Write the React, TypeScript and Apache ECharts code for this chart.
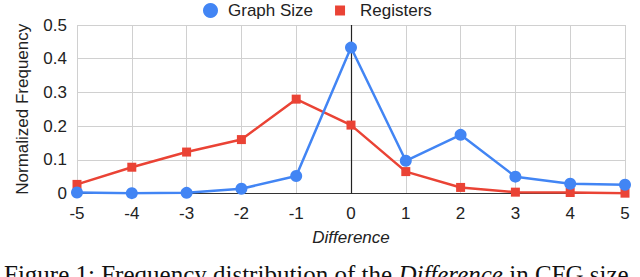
import React, { useEffect, useRef } from "react";
import * as echarts from "echarts";

const differences = [-5, -4, -3, -2, -1, 0, 1, 2, 3, 4, 5];
const graphSize = [0.003, 0.001, 0.002, 0.014, 0.052, 0.433, 0.097, 0.174, 0.05, 0.029, 0.026];
const registers = [0.027, 0.078, 0.123, 0.16, 0.28, 0.203, 0.065, 0.018, 0.004, 0.003, 0.001];
const seriesNames = ["Graph Size", "Registers"];
const colors = ["#4285F4", "#EA4335"];

export default function App() {
  const ref = useRef<HTMLDivElement>(null);
  useEffect(() => {
    document.body.style.margin = "0";
    const chart = echarts.init(ref.current!, null, { renderer: "svg" });
    const font = "Liberation Sans, Arial, sans-serif";
    const serif = "Liberation Serif, Times New Roman, serif";
    chart.setOption({
      animation: false,
      backgroundColor: "#ffffff",
      textStyle: { fontFamily: font },
      legend: {
        top: 2,
        left: 203,
        padding: 0,
        itemGap: 17,
        itemWidth: 25,
        itemHeight: 15,
        textStyle: { fontSize: 17, color: "#222", fontFamily: font },
        data: [
          { name: seriesNames[0], icon: "circle" },
          { name: seriesNames[1], icon: "path://M0,0L0,0M25,15L25,15M5,2.5h10v10h-10z" },
        ],
      },
      grid: { left: 77, right: 15, top: 25, bottom: 83.5 },
      xAxis: {
        type: "value",
        min: -5,
        max: 5,
        interval: 1,
        name: "Difference",
        nameLocation: "middle",
        nameGap: 35,
        nameTextStyle: { fontStyle: "italic", fontSize: 17, color: "#222", fontFamily: font },
        axisLine: { show: true, lineStyle: { color: "#333", width: 1 } },
        axisTick: { show: false },
        axisLabel: { fontSize: 17, color: "#222", margin: 11, fontFamily: font },
        splitLine: { show: true, lineStyle: { color: "#d0d0d0", width: 1 } },
      },
      yAxis: {
        type: "value",
        min: 0,
        max: 0.5,
        interval: 0.1,
        name: "Normalized Frequency",
        nameLocation: "middle",
        nameGap: 46,
        nameTextStyle: { fontSize: 17, color: "#222", fontFamily: font },
        axisLine: { show: false },
        axisTick: { show: false },
        axisLabel: {
          fontSize: 17,
          color: "#222",
          margin: 10,
          fontFamily: font,
          formatter: (v: number) => (v === 0 ? "0" : String(Math.round(v * 10) / 10)),
        },
        splitLine: { show: true, lineStyle: { color: "#d0d0d0", width: 1 } },
      },
      series: [
        {
          name: seriesNames[0],
          type: "line",
          data: differences.map((d, i) => [d, graphSize[i]]),
          symbol: "circle",
          symbolSize: 12,
          lineStyle: { width: 2.5, color: colors[0] },
          itemStyle: { color: colors[0] },
          z: 3,
          markLine: {
            silent: true,
            symbol: "none",
            label: { show: false },
            lineStyle: { color: "#222", width: 1.2, type: "solid" },
            data: [{ xAxis: 0 }],
            z: 1,
          },
        },
        {
          name: seriesNames[1],
          type: "line",
          data: differences.map((d, i) => [d, registers[i]]),
          symbol: "rect",
          symbolSize: 9,
          lineStyle: { width: 2.5, color: colors[1] },
          itemStyle: { color: colors[1] },
          z: 2,
        },
      ],
      graphic: [
        {
          type: "text",
          left: 4,
          top: 262,
          style: {
            text: "Figure 1: Frequency distribution of the {i|Difference} in CFG size",
            fontFamily: serif,
            fontSize: 25,
            fill: "#111",
            rich: {
              i: {
                fontStyle: "italic",
                fontFamily: serif,
                fontSize: 25,
                fill: "#111",
              },
            },
          },
        },
      ],
    });
    return () => chart.dispose();
  }, []);
  return <div ref={ref} style={{ width: 640, height: 277 }} />;
}
